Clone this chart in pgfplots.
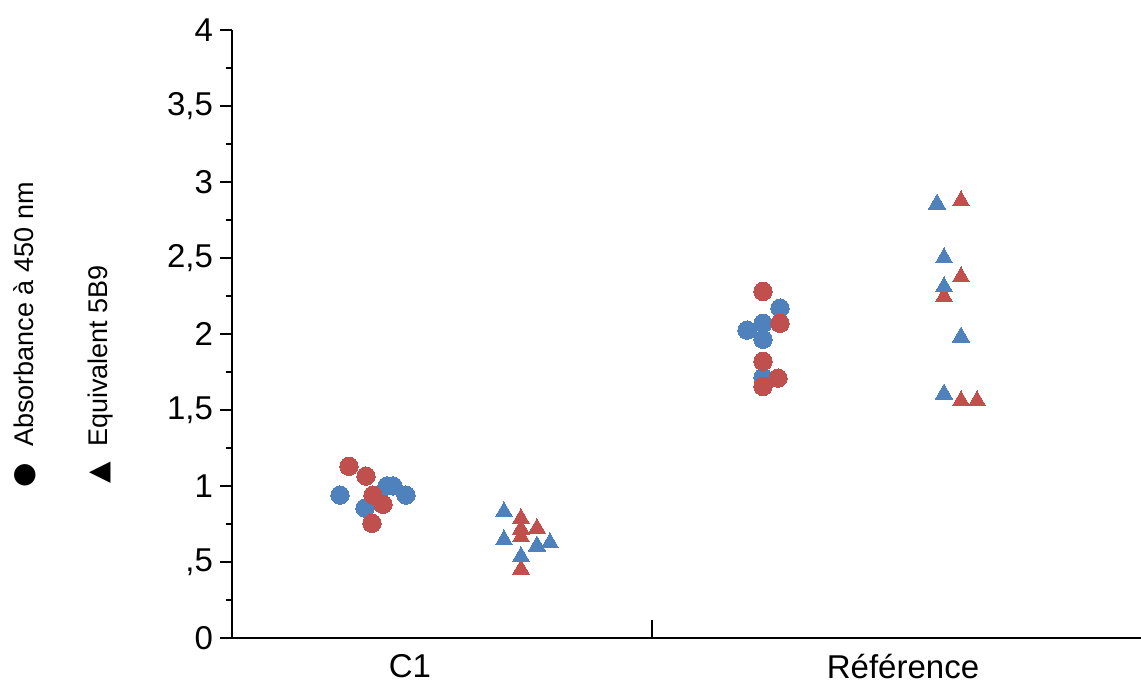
\documentclass[border=0pt]{standalone}
\usepackage{pgfplots}
\pgfplotsset{compat=1.18}
\usepackage{fontspec}
\setmainfont{Liberation Sans}
\newfontfamily\sym{DejaVu Sans}
\definecolor{sblue}{HTML}{4F81BD}
\definecolor{sred}{HTML}{C0504D}
\begin{document}
\begin{tikzpicture}
\begin{axis}[
 scale only axis, width=454.5pt, height=304pt,
 xmin=232, xmax=1141, ymin=0, ymax=4,
 axis x line=bottom, axis y line=left,
 axis line style={line width=1pt, -},
 xtick={410,903}, xticklabels={C1,Référence},
 xtick style={draw=none},
 xticklabel style={yshift=1.5pt},
 ytick={0,0.5,1,1.5,2,2.5,3,3.5,4}, yticklabels={0,{,5},1,{1,5},2,{2,5},3,{3,5},4},
 minor ytick={0.25,0.75,1.25,1.75,2.25,2.75,3.25,3.75},
 tick align=outside,
 major tick length=6pt, minor tick length=3pt,
 ytick style={line width=1pt, black},
 ticklabel style={font=\fontsize{16.5}{19}\selectfont},
 clip=false,
]
\addplot[only marks, mark=*, mark size=4.6pt, mark options={draw=sblue, fill=sblue, line width=0pt}] coordinates {
(340,0.94) (365,0.855) (387,1.0) (393,1.0) (406,0.94)
(780,2.17) (763,2.07) (747,2.025) (763,1.965) (763,1.715)
};
\addplot[only marks, mark=*, mark size=4.6pt, mark options={draw=sred, fill=sred, line width=0pt}] coordinates {
(349,1.13) (366,1.065) (373,0.94) (383,0.88) (372,0.755)
(763,2.28) (780,2.07) (763,1.82) (778,1.71) (763,1.655)
};
\addplot[only marks, mark=triangle*, mark size=5pt, mark options={draw=sred, fill=sred, line width=0pt}] coordinates {
(521,0.785) (521,0.715) (521,0.665) (537,0.72) (521,0.45)
(961,2.875) (961,2.375) (944,2.245) (961,1.56) (977,1.56)
};
\addplot[only marks, mark=triangle*, mark size=5pt, mark options={draw=sblue, fill=sblue, line width=0pt}] coordinates {
(504,0.83) (504,0.645) (521,0.535) (537,0.605) (550,0.625)
(937,2.855) (944,2.50) (944,2.31) (961,1.98) (944,1.605)
};
\draw[line width=1pt] (axis cs:652,0) -- ([yshift=9pt]axis cs:652,0);
\node[rotate=90, anchor=base west, inner sep=0pt, font=\fontsize{13.5}{16}\selectfont] at (axis cs:34,1.2566) {Absorbance à 450 nm};
\node[rotate=90, anchor=base west, inner sep=0pt, font=\fontsize{13.5}{16}\selectfont] at (axis cs:108,1.2566) {Equivalent 5B9};
\node[rotate=90, inner sep=0pt, font=\sym\fontsize{14}{16}\selectfont] at (axis cs:25,1.0724) {●};
\node[rotate=90, inner sep=0pt, font=\sym\fontsize{14}{16}\selectfont] at (axis cs:100,1.0855) {▲};
\end{axis}
\pgfresetboundingbox
\path ([shift={(-116pt,-22.5pt)}]current axis.south west) rectangle ([shift={(0pt,15pt)}]current axis.north east);
\end{tikzpicture}
\end{document}
